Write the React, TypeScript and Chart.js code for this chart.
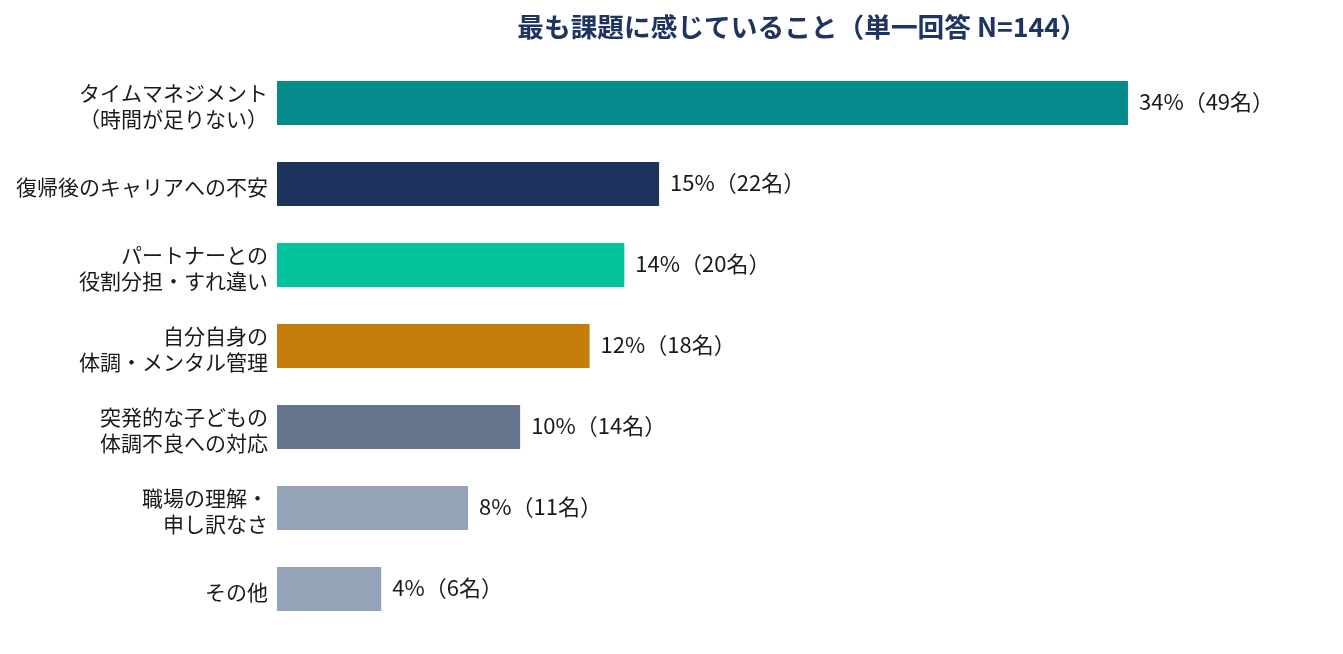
import React, { useEffect, useRef } from 'react';
import { Chart, registerables } from 'chart.js';

Chart.register(...registerables);

const titleText = '最も課題に感じていること（単一回答 N=144）';
const categories: string[][] = [
  ['タイムマネジメント', '（時間が足りない）'],
  ['復帰後のキャリアへの不安'],
  ['パートナーとの', '役割分担・すれ違い'],
  ['自分自身の', '体調・メンタル管理'],
  ['突発的な子どもの', '体調不良への対応'],
  ['職場の理解・', '申し訳なさ'],
  ['その他'],
];
const counts = [49, 22, 20, 18, 14, 11, 6];
const percents = [34, 15, 14, 12, 10, 8, 4];
const barColors = ['#068b8c', '#1d325d', '#04c39c', '#c47d0b', '#64748b', '#94a3b8', '#94a3b8'];

const FONT = '"Noto Sans CJK JP", "Noto Sans", sans-serif';

const App: React.FC = () => {
  const chartRef = useRef<HTMLCanvasElement | null>(null);
  const chartInstanceRef = useRef<Chart | null>(null);

  useEffect(() => {
    document.body.style.margin = '0';
    if (!chartRef.current) return;

    // 34%（49名） style labels to the right of each bar
    const valueLabels = {
      id: 'valueLabels',
      afterDatasetsDraw(chart: any) {
        const ctx = chart.ctx;
        const meta = chart.getDatasetMeta(0);
        ctx.save();
        ctx.font = `22px ${FONT}`;
        ctx.fillStyle = '#1a1a1a';
        ctx.textAlign = 'left';
        ctx.textBaseline = 'middle';
        meta.data.forEach((bar: any, i: number) => {
          ctx.fillText(`${percents[i]}%（${counts[i]}名）`, bar.x + 11, bar.y - 1.5);
        });
        ctx.restore();
      },
    };

    const titlePlugin = {
      id: 'topTitle',
      afterDraw(chart: any) {
        const ctx = chart.ctx;
        const area = chart.chartArea;
        ctx.save();
        ctx.font = `bold 26.7px ${FONT}`;
        ctx.fillStyle = '#1f3560';
        ctx.textAlign = 'center';
        ctx.textBaseline = 'middle';
        ctx.fillText(titleText, (area.left + area.right) / 2 + 4, 27);
        ctx.restore();
      },
    };

    chartInstanceRef.current = new Chart(chartRef.current, {
      type: 'bar',
      data: {
        labels: categories,
        datasets: [
          {
            data: counts,
            backgroundColor: barColors,
            barPercentage: 1,
            categoryPercentage: 0.543,
          },
        ],
      },
      options: {
        indexAxis: 'y',
        animation: false,
        responsive: false,
        maintainAspectRatio: false,
        layout: { padding: { top: 62.5, bottom: 24.5, left: 0, right: 24 } },
        plugins: {
          legend: { display: false },
          tooltip: { enabled: false },
          title: { display: false },
        },
        scales: {
          x: { min: 0, max: 60, display: false },
          y: {
            grid: { display: false, drawTicks: false },
            border: { display: false },
            ticks: {
              font: { family: FONT, size: 21, lineHeight: 1.2 },
              color: '#1a1a1a',
              padding: 9,
              labelOffset: 3,
            },
            afterFit(scale: any) {
              scale.width = 277;
              scale.paddingTop = 0;
              scale.paddingBottom = 0;
            },
          },
        },
      },
      plugins: [valueLabels, titlePlugin],
    });

    return () => {
      if (chartInstanceRef.current) {
        chartInstanceRef.current.destroy();
        chartInstanceRef.current = null;
      }
    };
  }, []);

  return (
    <div style={{ width: 1343, height: 654, background: '#fff' }}>
      <canvas ref={chartRef} width={1343} height={654} style={{ width: '1343px', height: '654px' }} />
    </div>
  );
};

export default App;
